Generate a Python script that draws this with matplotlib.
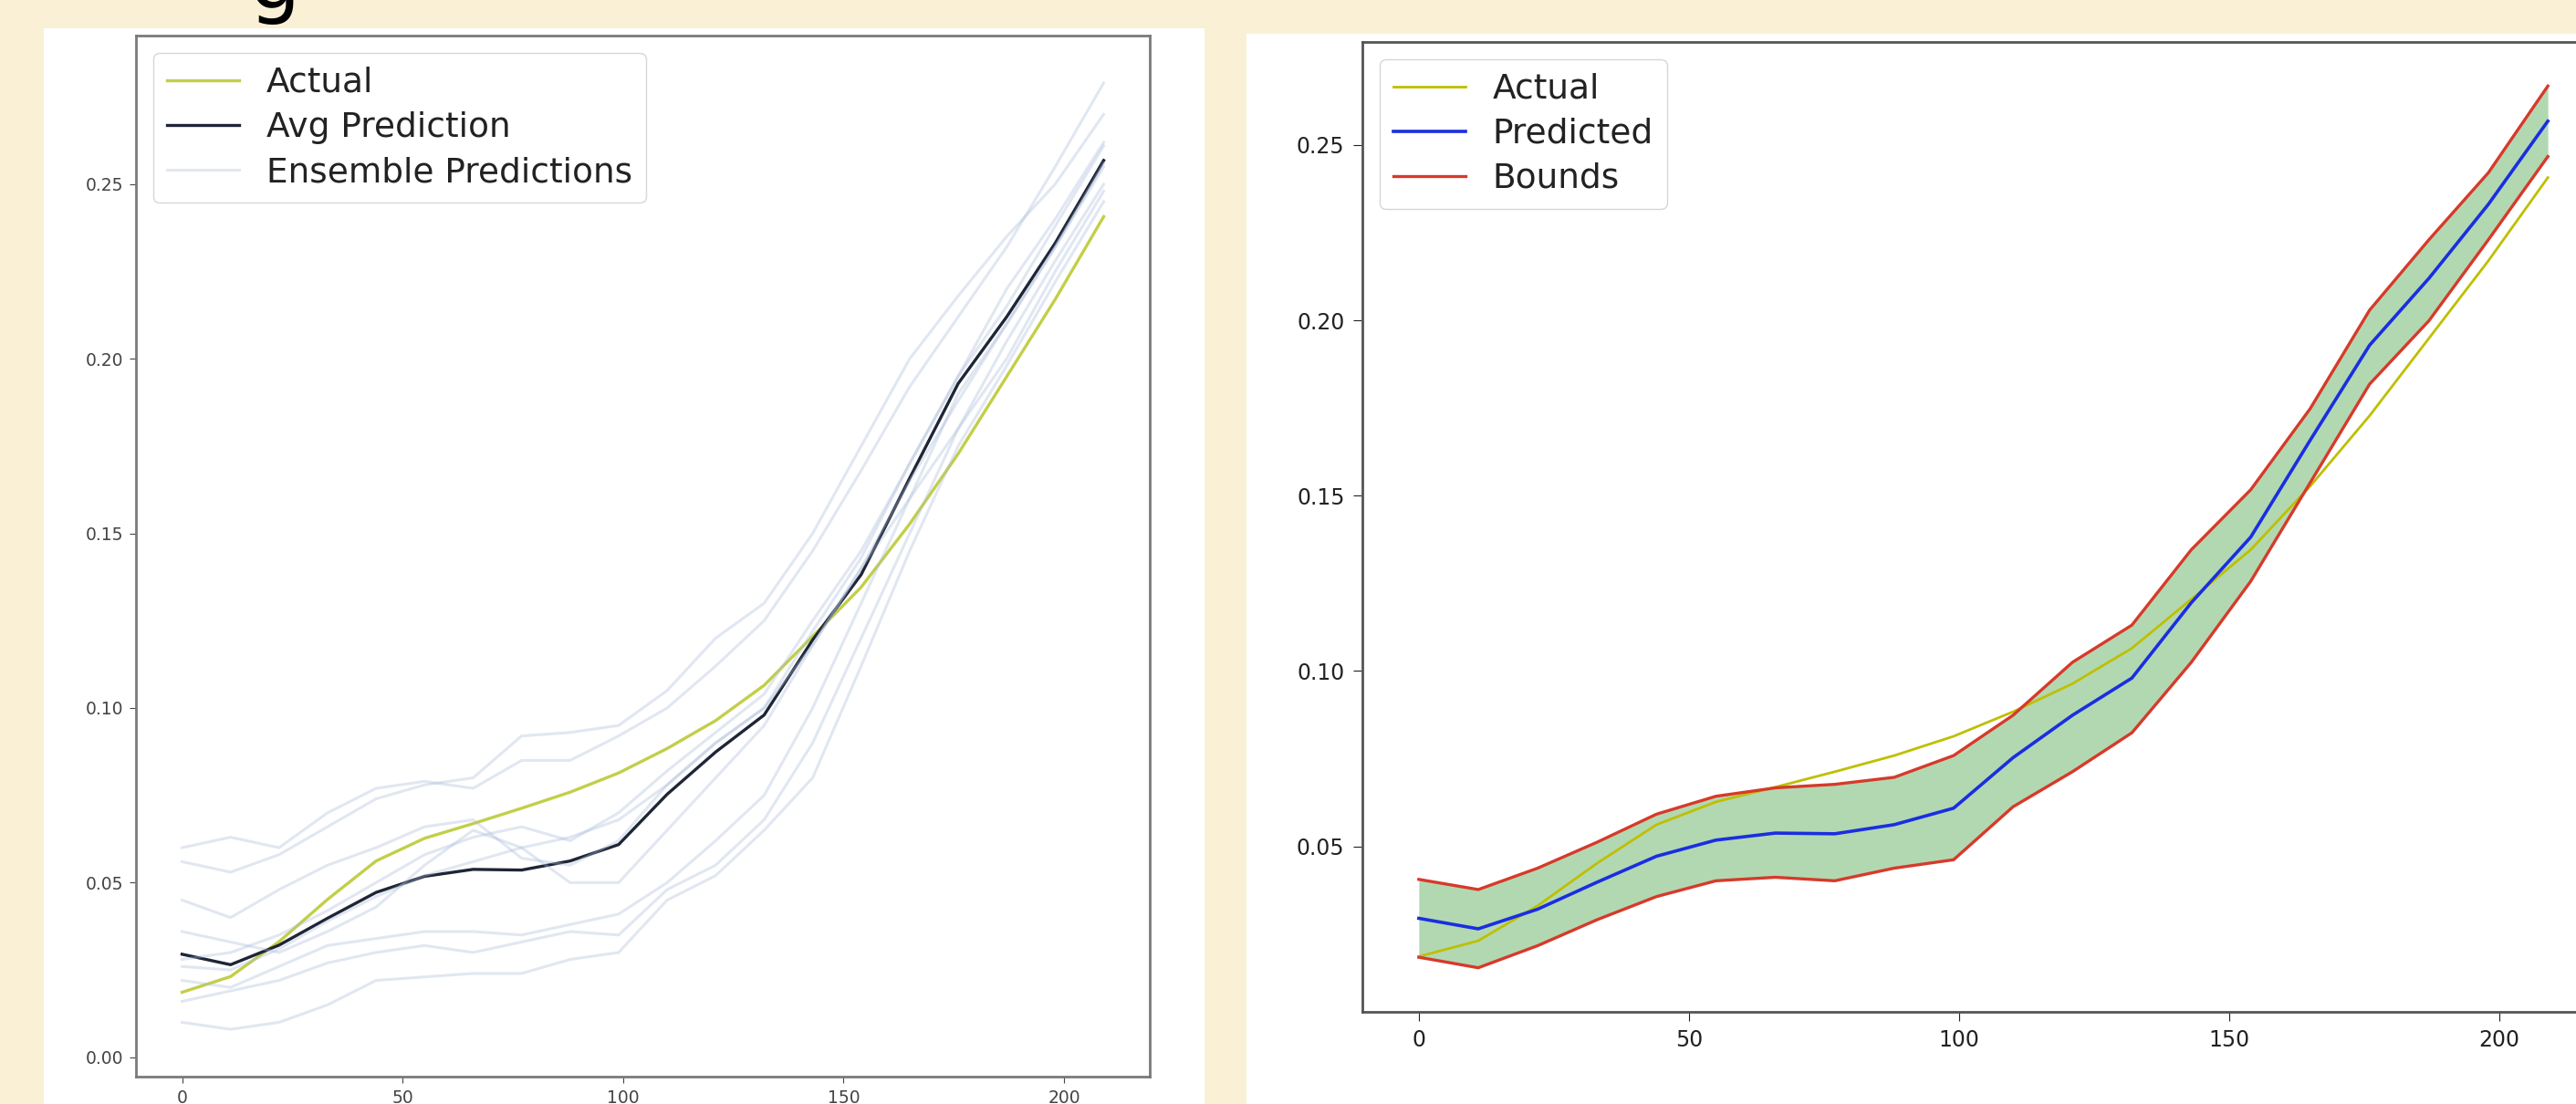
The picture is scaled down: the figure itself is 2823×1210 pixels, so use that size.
import matplotlib
matplotlib.use('Agg')
import matplotlib.pyplot as plt
from matplotlib.patches import Rectangle

# x positions (time steps)
steps = [0, 11, 22, 33, 44, 55, 66, 77, 88, 99, 110, 121, 132, 143, 154, 165, 176, 187, 198, 209]

# actual series and the averaged model prediction
actual = [0.0186, 0.0231, 0.0331, 0.0452, 0.0562, 0.0627, 0.0669, 0.0713, 0.0759, 0.0814,
          0.0884, 0.0964, 0.1065, 0.1205, 0.1346, 0.1527, 0.1728, 0.1949, 0.2170, 0.2407]
predicted = [0.0295, 0.0265, 0.0321, 0.0398, 0.0472, 0.0518, 0.0538, 0.0536, 0.0562, 0.0609,
             0.0753, 0.0874, 0.0980, 0.1195, 0.1382, 0.1658, 0.1929, 0.2120, 0.2331, 0.2568]

# bounds of the prediction band (right plot)
lower_bound = [0.0184, 0.0154, 0.0217, 0.0291, 0.0357, 0.0402, 0.0412, 0.0402, 0.0438, 0.0462,
               0.0613, 0.0713, 0.0824, 0.1025, 0.1256, 0.1537, 0.1818, 0.1999, 0.2230, 0.2467]
upper_bound = [0.0406, 0.0377, 0.0438, 0.0512, 0.0592, 0.0643, 0.0667, 0.0677, 0.0697, 0.0759,
               0.0874, 0.1025, 0.1131, 0.1346, 0.1517, 0.1748, 0.2029, 0.2230, 0.2421, 0.2668]

# individual ensemble members (left plot)
ens_1 = [0.060, 0.063, 0.060, 0.070, 0.077, 0.079, 0.077, 0.085, 0.085, 0.092,
         0.100, 0.112, 0.125, 0.145, 0.168, 0.192, 0.212, 0.232, 0.255, 0.279]
ens_2 = [0.056, 0.053, 0.058, 0.066, 0.074, 0.078, 0.080, 0.092, 0.093, 0.095,
         0.105, 0.120, 0.130, 0.150, 0.175, 0.200, 0.218, 0.235, 0.250, 0.270]
ens_3 = [0.045, 0.040, 0.048, 0.055, 0.060, 0.066, 0.068, 0.057, 0.055, 0.062,
         0.078, 0.090, 0.100, 0.122, 0.143, 0.170, 0.195, 0.215, 0.238, 0.261]
ens_4 = [0.026, 0.025, 0.031, 0.039, 0.046, 0.052, 0.056, 0.060, 0.063, 0.068,
         0.078, 0.090, 0.100, 0.118, 0.140, 0.165, 0.188, 0.210, 0.232, 0.256]
ens_5 = [0.036, 0.033, 0.030, 0.036, 0.043, 0.055, 0.065, 0.060, 0.050, 0.050,
         0.065, 0.080, 0.095, 0.118, 0.140, 0.160, 0.180, 0.205, 0.228, 0.250]
ens_6 = [0.028, 0.030, 0.035, 0.042, 0.050, 0.058, 0.063, 0.066, 0.062, 0.070,
         0.082, 0.093, 0.104, 0.125, 0.145, 0.170, 0.195, 0.220, 0.240, 0.262]
ens_7 = [0.022, 0.020, 0.026, 0.032, 0.034, 0.036, 0.036, 0.035, 0.038, 0.041,
         0.050, 0.062, 0.075, 0.100, 0.130, 0.160, 0.190, 0.210, 0.232, 0.255]
ens_8 = [0.016, 0.019, 0.022, 0.027, 0.030, 0.032, 0.030, 0.033, 0.036, 0.035,
         0.048, 0.055, 0.068, 0.090, 0.120, 0.150, 0.180, 0.200, 0.225, 0.248]
ens_9 = [0.010, 0.008, 0.010, 0.015, 0.022, 0.023, 0.024, 0.024, 0.028, 0.030,
         0.045, 0.052, 0.065, 0.080, 0.112, 0.145, 0.175, 0.198, 0.222, 0.245]
ensemble_runs = [ens_1, ens_2, ens_3, ens_4, ens_5, ens_6, ens_7, ens_8, ens_9]

W, H = 2823, 1210  # output size in pixels

fig = plt.figure(figsize=(W / 100, H / 100), dpi=100, facecolor='#f9f0d6')

# white "screenshot" panels behind each plot (negative zorder so axes draw on top)
fig.patches.append(Rectangle((48 / W, 0), 1272 / W, 1 - 31 / H, transform=fig.transFigure,
                             facecolor='white', edgecolor='none', zorder=-10))
fig.patches.append(Rectangle((1366 / W, 0), 1 - 1366 / W, 1 - 37 / H, transform=fig.transFigure,
                             facecolor='white', edgecolor='none', zorder=-10))

# cut-off heading letter at the top
fig.text(300 / W, 1 - 8 / H, 'g', fontsize=64, ha='center', va='baseline', color='black')

# ---- left plot: ensemble ----
ax1 = fig.add_axes([149 / W, 1 - 1180 / H, 1111 / W, 1141 / H])
ax1.plot(steps, actual, color='#c2cf48', lw=2.4, label='Actual')
ax1.plot(steps, predicted, color='#1e2536', lw=2.4, label='Avg Prediction')
for i, run in enumerate(ensemble_runs):
    ax1.plot(steps, run, color='#a9bbd9', alpha=0.35, lw=2.2,
             label='Ensemble Predictions' if i == 0 else None)
ax1.set_xticks([0, 50, 100, 150, 200])
ax1.set_yticks([0.00, 0.05, 0.10, 0.15, 0.20, 0.25])
ax1.tick_params(labelsize=13.5, colors='#444', length=5, pad=5)
for s in ax1.spines.values():
    s.set_color('#7a7a7a')
    s.set_linewidth(2)
ax1.legend(loc='upper left', fontsize=27, labelspacing=0.35, handlelength=2.1,
           handletextpad=0.8, borderpad=0.4, labelcolor='#222')

# ---- right plot: prediction with bounds ----
ax2 = fig.add_axes([1493 / W, 1 - 1109 / H, 1361 / W, 1063 / H])
ax2.fill_between(steps, lower_bound, upper_bound, color='g', alpha=0.3, lw=0)
ax2.plot(steps, actual, color='#bfbf00', lw=2, label='Actual')
ax2.plot(steps, predicted, color='#1a2ee0', lw=2.6, label='Predicted')
ax2.plot(steps, upper_bound, color='#d63a2a', lw=2.4, label='Bounds')
ax2.plot(steps, lower_bound, color='#d63a2a', lw=2.4)
ax2.set_xlim(-10.45, 219.45)
ax2.set_xticks([0, 50, 100, 150, 200])
ax2.set_yticks([0.05, 0.10, 0.15, 0.20, 0.25])
ax2.tick_params(labelsize=17, colors='#222', length=7, pad=7)
for s in ax2.spines.values():
    s.set_color('#555')
    s.set_linewidth(2)
ax2.legend(loc='upper left', fontsize=27, labelspacing=0.35, handlelength=2.1,
           handletextpad=0.8, borderpad=0.4, labelcolor='#222')

fig.savefig('out.png', dpi=100, facecolor=fig.get_facecolor())
